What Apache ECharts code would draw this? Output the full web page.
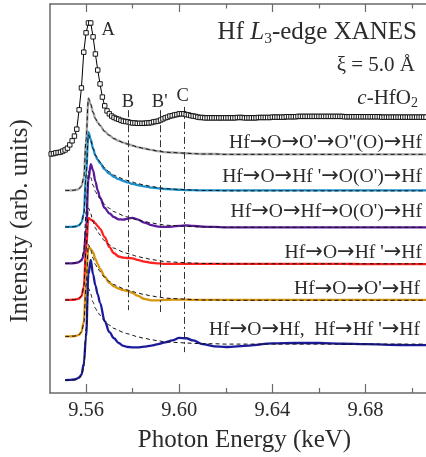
<!DOCTYPE html>
<html><head><meta charset="utf-8">
<script src="https://cdn.jsdelivr.net/npm/echarts@6/dist/echarts.min.js"></script>
<style>html,body{margin:0;padding:0;background:#fff}#c{width:426px;height:457px}</style>
</head><body><div id="c"></div>
<script>
// ---------- DATA ----------
const expEnergy = [
9.545,9.546,9.547,9.548,9.549,9.550,9.551,9.552,9.553,9.554,
9.555,9.556,9.557,9.558,9.559,9.560,9.561,9.562,9.563,9.564,
9.565,9.566,9.567,9.568,9.569,9.570,9.571,9.572,9.573,9.574,
9.575,9.576,9.577,9.578,9.579,9.580,9.581,9.582,9.583,9.584,
9.585,9.586,9.587,9.588,9.589,9.590,9.591,9.592,9.593,9.594,
9.595,9.596,9.597,9.598,9.599,9.600,9.601,9.602,9.603,9.604,
9.605,9.606,9.607,9.608,9.609,9.610,9.611,9.612,9.613,9.614,
9.615,9.616,9.617,9.618,9.619,9.620,9.621,9.622,9.623,9.624,
9.625,9.626,9.627,9.628,9.629,9.630,9.631,9.632,9.633,9.634,
9.635,9.636,9.637,9.638,9.639,9.640,9.641,9.642,9.643,9.644,
9.645,9.646,9.647,9.648,9.649,9.650,9.651,9.652,9.653,9.654,
9.655,9.656,9.657,9.658,9.659,9.660,9.661,9.662,9.663,9.664,
9.665,9.666,9.667,9.668,9.669,9.670,9.671,9.672,9.673,9.674,
9.675,9.676,9.677,9.678,9.679,9.680,9.681,9.682,9.683,9.684,
9.685,9.686,9.687,9.688,9.689,9.690,9.691,9.692,9.693,9.694,
9.695,9.696,9.697,9.698,9.699,9.700,9.701,9.702,9.703,9.704,
9.705,9.706];
// experimental c-HfO2 spectrum (normalized, arb. units)
const expHfO2 = [
0,0.01,0.03,0.04,0.05,0.08,0.11,0.16,0.25,0.36,
0.49,0.68,1.21,1.81,2.79,3.32,3.59,3.59,3.21,2.74,
2.30,1.92,1.56,1.32,1.18,1.10,1.04,1.00,0.97,0.95,
0.92,0.90,0.89,0.88,0.86,0.85,0.85,0.84,0.84,0.84,
0.84,0.85,0.85,0.86,0.88,0.89,0.90,0.93,0.96,0.99,
1.01,1.04,1.05,1.07,1.08,1.10,1.10,1.10,1.08,1.07,
1.05,1.04,1.03,1.01,1.00,1.00,0.99,0.99,0.99,0.99,
0.99,0.99,0.99,0.99,0.99,0.99,0.99,0.99,0.99,0.99,
1.00,1.00,1.00,0.99,0.99,0.99,0.99,0.99,0.99,1.00,
1.00,1.00,1.00,1.00,1.00,1.01,1.01,1.01,1.01,1.01,
1.01,1.02,1.02,1.02,1.02,1.02,1.03,1.03,1.03,1.03,
1.03,1.03,1.03,1.03,1.03,1.03,1.03,1.03,1.03,1.03,
1.03,1.03,1.03,1.03,1.03,1.03,1.02,1.02,1.02,1.02,
1.02,1.02,1.02,1.02,1.02,1.02,1.02,1.02,1.02,1.02,
1.02,1.02,1.01,1.01,1.01,1.01,1.01,1.01,1.01,1.01,
1.01,1.01,1.01,1.01,1.01,1.01,1.01,1.01,1.01,1.01,
1.01,1.01];

const simEnergy = [9.551,9.553,9.555,9.556,9.557,9.558,9.559,9.560,9.561,9.562,9.563,9.564,9.565,9.566,
9.568,9.570,9.572,9.574,9.576,9.578,9.580,9.582,9.585,9.588,9.591,9.594,9.597,9.600,9.603,9.606,
9.610,9.615,9.620,9.630,9.640,9.650,9.660,9.670,9.680,9.690,9.700,9.706];
// full calculation (dashed reference curve)
const fullCalc = [0,0,0.01,0.02,0.05,0.12,0.34,1.40,2.52,2.36,2.14,1.97,1.86,1.78,
1.62,1.51,1.42,1.36,1.31,1.27,1.23,1.19,1.15,1.11,1.08,1.05,1.04,1.03,1.02,1.01,
1.00,1.00,0.99,0.99,0.99,0.99,0.99,0.99,0.99,0.99,0.99,0.99];
const pathGray = [0,0,0.01,0.02,0.05,0.12,0.34,1.40,2.53,2.36,2.14,1.97,1.86,1.78,
1.62,1.51,1.42,1.36,1.31,1.27,1.23,1.19,1.15,1.11,1.08,1.05,1.04,1.03,1.02,1.01,
1.00,1.00,0.99,0.99,0.99,0.99,0.99,0.99,0.99,0.99,0.99,0.99];
const pathCyan = [0,0,0.01,0.02,0.05,0.12,0.35,1.45,2.60,2.40,2.15,1.96,1.84,1.75,
1.58,1.46,1.37,1.31,1.26,1.22,1.18,1.15,1.11,1.08,1.06,1.04,1.03,1.02,1.01,1.01,
1.00,1.00,1.00,1.00,1.00,1.00,1.00,1.00,1.00,1.00,1.00,1.00];
const pathPurple = [0,0,0.01,0.02,0.04,0.08,0.22,0.95,2.30,2.72,2.55,2.25,2.00,1.80,
1.52,1.37,1.27,1.21,1.20,1.23,1.25,1.21,1.12,1.05,1.01,1.00,1.01,1.03,1.04,1.03,
1.01,1.00,0.99,0.99,0.99,0.99,0.99,0.99,0.99,0.99,0.99,0.99];
const pathRed = [0,0,0.01,0.02,0.04,0.10,0.35,1.40,2.25,2.20,2.17,2.10,2.02,1.95,
1.72,1.45,1.28,1.19,1.16,1.15,1.14,1.10,1.05,1.02,1.00,0.99,0.99,0.99,0.99,0.99,
0.99,0.99,0.99,0.99,0.99,0.99,0.99,0.99,0.98,0.98,0.98,0.98];
const pathOrange = [0,0,0.01,0.02,0.05,0.12,0.40,1.50,2.45,2.40,2.30,2.13,1.98,1.85,
1.64,1.47,1.37,1.31,1.27,1.24,1.19,1.12,1.03,0.99,0.99,1.00,1.01,1.01,1.01,1.00,
1.00,1.00,1.00,1.00,1.00,1.00,1.00,1.00,1.00,1.00,1.00,1.00];
const pathBlue = [0,0.01,0.02,0.04,0.08,0.15,0.45,1.20,2.90,3.30,2.90,2.60,2.35,2.12,
1.62,1.32,1.15,1.02,0.94,0.91,0.90,0.90,0.92,0.95,0.99,1.04,1.09,1.16,1.15,1.09,
0.99,0.93,0.91,0.95,1.01,1.02,1.02,1.00,0.99,0.97,0.96,0.96];

const pathLabels = ['Hf\u2192O\u2192O\'\u2192O"(O)\u2192Hf', "Hf\u2192O\u2192Hf '\u2192O(O')\u2192Hf",
  "Hf\u2192O\u2192Hf\u2192O(O')\u2192Hf", "Hf\u2192O\u2192Hf '\u2192Hf", "Hf\u2192O\u2192O'\u2192Hf",
  "Hf\u2192O\u2192Hf,  Hf\u2192Hf '\u2192Hf"];
const stackOffset = [6.55, 5.55, 4.55, 3.55, 2.55, 1.55, 0.35]; // exp, then six paths
const featureNames = ['A', 'B', "B'", 'C'];
const featureEnergy = [9.5695, 9.578, 9.592, 9.602];
const majorTicks = [9.56, 9.60, 9.64, 9.68];
const minorTicks = [9.58, 9.62, 9.66, 9.70];

// ---------- CHART ----------
const FONT = '"Liberation Serif", "DejaVu Serif", serif';
const TXT = '#2b2b2b';
const AX = '#6a6a6a';
const colors = ['#a8a8a8', '#1b8fc9', '#5b1b9c', '#ff2020', '#d8960f', '#1b1b9c'];
const sims = [pathGray, pathCyan, pathPurple, pathRed, pathOrange, pathBlue];
const X_MIN = 9.5445, X_MAX = 9.706, Y_MAX = 10.66;

function xy(xs, ys, off) { return xs.map((x, i) => [x, +(ys[i] + off).toFixed(4)]); }

const series = [];
sims.forEach((vals, i) => {
  series.push({ type: 'line', data: xy(simEnergy, vals, stackOffset[i + 1]), smooth: 0.35, smoothMonotone: 'x',
    symbol: 'none', lineStyle: { color: colors[i], width: 2.3 }, z: 3, silent: true });
  series.push({ type: 'line', data: xy(simEnergy, fullCalc, stackOffset[i + 1]), smooth: 0.35, smoothMonotone: 'x',
    symbol: 'none', lineStyle: { color: '#111', width: 1, type: [4, 3] }, z: 4, silent: true });
});
const lineSpans = [[7.75, 2.27], [7.75, 2.22], [7.84, 1.12]];
series.push({
  type: 'line', data: xy(expEnergy, expHfO2, stackOffset[0]), symbol: 'rect', symbolSize: 4.4, showSymbol: true,
  itemStyle: { color: '#fff', borderColor: '#000', borderWidth: 0.9 }, lineStyle: { color: '#000', width: 1 }, z: 6, silent: true,
  markLine: { symbol: 'none', silent: true, label: { show: false }, lineStyle: { type: [7, 3, 2, 3], color: '#333', width: 1 },
    data: lineSpans.map((s, k) => [{ coord: [featureEnergy[k + 1], s[0]] }, { coord: [featureEnergy[k + 1], s[1]] }]) }
});

const xBase = { type: 'value', min: X_MIN, max: X_MAX, splitLine: { show: false }, offset: 0 };
const option = {
  animation: false,
  backgroundColor: '#fff',
  grid: { left: 50, right: 0, top: 4, bottom: 64, containLabel: false },
  xAxis: [
    Object.assign({}, xBase, { position: 'bottom', axisLine: { onZero: false, lineStyle: { color: AX, width: 1.5 } },
      axisTick: { inside: true, length: 9, customValues: majorTicks, lineStyle: { color: AX, width: 1.2 } },
      axisLabel: { customValues: majorTicks, formatter: v => v.toFixed(2), fontFamily: FONT, fontSize: 20.5, color: TXT, margin: 7 } }),
    Object.assign({}, xBase, { position: 'bottom', axisLine: { show: false, onZero: false },
      axisTick: { inside: true, length: 5, customValues: minorTicks, lineStyle: { color: AX, width: 1.2 } }, axisLabel: { show: false } }),
    Object.assign({}, xBase, { position: 'top', axisLine: { onZero: false, lineStyle: { color: AX, width: 1.5 } },
      axisTick: { inside: true, length: 8, customValues: majorTicks, lineStyle: { color: AX, width: 1.2 } }, axisLabel: { show: false } }),
    Object.assign({}, xBase, { position: 'top', axisLine: { show: false, onZero: false },
      axisTick: { inside: true, length: 4.5, customValues: minorTicks, lineStyle: { color: AX, width: 1.2 } }, axisLabel: { show: false } })
  ],
  yAxis: { type: 'value', min: 0, max: Y_MAX, axisLine: { show: true, lineStyle: { color: AX, width: 1.5 } },
    axisTick: { show: false }, axisLabel: { show: false }, splitLine: { show: false } },
  series: series
};
const chart = echarts.init(document.getElementById('c'));
chart.setOption(option);

// text annotations
const letterY = [9.95, 7.98, 7.98, 8.14];
const letterX = [9.5695, 9.578, 9.5916, 9.6015];
const graphics = [];
featureNames.forEach((n, k) => {
  const p = chart.convertToPixel({ gridIndex: 0 }, [letterX[k], letterY[k]]);
  graphics.push({ type: 'text', x: p[0], y: p[1], silent: true,
    style: { text: n, font: '18.5px ' + FONT, fill: TXT, align: 'center', verticalAlign: 'middle', textAlign: 'center', textVerticalAlign: 'middle' } });
});
const rs = (extra) => Object.assign({ fontFamily: FONT, fill: TXT }, extra);
const labelY = [142.7, 176.7, 211.7, 253, 289.3, 330];
const labelR = [422, 422, 422, 422, 420, 420];
pathLabels.forEach((t, i) => {
  const rich = t.split('\u2192').map(s => '{t|' + s + '}').join('{a|\u2192}');
  graphics.push({ type: 'text', x: labelR[i], y: labelY[i], silent: true,
    style: { text: rich, align: 'right', verticalAlign: 'middle', textAlign: 'right', textVerticalAlign: 'middle',
      rich: { t: rs({ fontSize: 19.6, lineHeight: 23 }),
              a: { fontFamily: '"DejaVu Sans", sans-serif', fontSize: 21, fill: TXT, lineHeight: 23 } } } });
});
graphics.push({ type: 'text', x: 417, y: 32, silent: true, style: {
  text: '{n|Hf }{i|L}{s|3}{n|-edge XANES}', align: 'right', verticalAlign: 'middle', textAlign: 'right', textVerticalAlign: 'middle',
  rich: { n: rs({ fontSize: 25, lineHeight: 29 }), i: rs({ fontSize: 25, lineHeight: 29, fontStyle: 'italic' }),
          s: rs({ fontSize: 15.5, lineHeight: 10, verticalAlign: 'bottom' }) } } });
graphics.push({ type: 'text', x: 415, y: 65, silent: true, style: {
  text: '\u03BE = 5.0 \u00C5', font: '21px ' + FONT, fill: TXT, align: 'right', verticalAlign: 'middle', textAlign: 'right', textVerticalAlign: 'middle' } });
graphics.push({ type: 'text', x: 418, y: 98, silent: true, style: {
  text: '{i|c}{n|-HfO}{s|2}', align: 'right', verticalAlign: 'middle', textAlign: 'right', textVerticalAlign: 'middle',
  rich: { n: rs({ fontSize: 21, lineHeight: 25 }), i: rs({ fontSize: 21, lineHeight: 25, fontStyle: 'italic' }),
          s: rs({ fontSize: 14, lineHeight: 10, verticalAlign: 'bottom' }) } } });
graphics.push({ type: 'text', x: 244.5, y: 440, silent: true, style: {
  text: 'Photon Energy (keV)', font: '25px ' + FONT, fill: TXT, align: 'center', verticalAlign: 'middle', textAlign: 'center', textVerticalAlign: 'middle' } });
graphics.push({ type: 'text', x: 20, y: 221, rotation: Math.PI / 2, silent: true, style: {
  text: 'Intensity (arb. units)', font: '25px ' + FONT, fill: TXT, align: 'center', verticalAlign: 'middle', textAlign: 'center', textVerticalAlign: 'middle' } });
chart.setOption({ graphic: graphics });
</script>
</body></html>
